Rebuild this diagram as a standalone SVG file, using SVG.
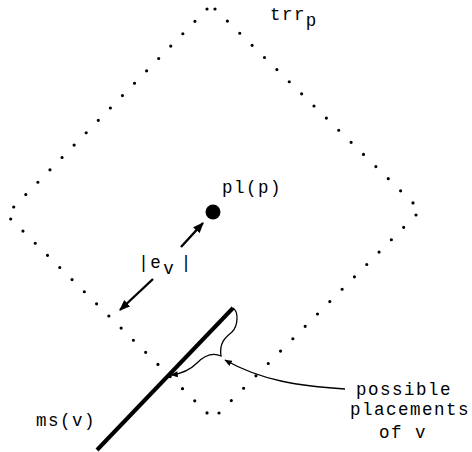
<svg xmlns="http://www.w3.org/2000/svg" width="472" height="452" viewBox="0 0 472 452">
<style>
.t{font-family:"Liberation Mono","Courier New",monospace;font-size:17.5px;letter-spacing:1.5px;fill:#000}
.c{text-anchor:middle;letter-spacing:0}
.dot{fill:none;stroke:#000;stroke-width:3.2;stroke-linecap:round;stroke-dasharray:0 1}
.thin{fill:none;stroke:#000;stroke-width:1.3}
.arr{fill:none;stroke:#000;stroke-width:2.4}
</style>
<defs>
<marker id="ah" viewBox="0 0 10 8" refX="9" refY="4" markerWidth="11" markerHeight="9" markerUnits="userSpaceOnUse" orient="auto"><path d="M0,0 L10,4 L0,8 z" fill="#000"/></marker>
<marker id="as" viewBox="0 0 10 8" refX="9" refY="4" markerWidth="8" markerHeight="6" markerUnits="userSpaceOnUse" orient="auto"><path d="M0,0 L10,4 L0,8 z" fill="#000"/></marker>
</defs>
<g id="trr">
<path class="dot" pathLength="16.3" d="M207,9 L10.1,210.7"/>
<path class="dot" pathLength="16.3" d="M215,9 L416.7,206.6"/>
<path class="dot" pathLength="16.3" d="M10.7,219 L210.7,416.6"/>
<path class="dot" pathLength="16.3" d="M416,215 L215.3,416.7"/>
<text class="t" x="270" y="20" letter-spacing="0">trr</text>
<text class="t c" x="311" y="26">p</text>
</g>
<g id="plp">
<circle cx="213" cy="212" r="7.5" fill="#000"/>
<text class="t" x="222" y="193">pl(p)</text>
</g>
<g id="ms">
<line x1="97" y1="450" x2="233" y2="308" stroke="#000" stroke-width="4"/>
<text class="t" x="36" y="426">ms(v)</text>
</g>
<g id="placements">
<path class="thin" d="M233,308 C239,312 238,326 232,332 C226,337 219,342 221,356 C212,352 204,356 197,363 C190,370 180,374 171,375" marker-end="url(#as)"/>
<text class="t" x="356" y="395">possible</text>
<text class="t" x="350" y="415">placements</text>
<text class="t" x="379" y="438">of v</text>
</g>
<g id="connectors">
<line class="arr" x1="181" y1="247" x2="203" y2="223" marker-end="url(#ah)"/>
<line class="arr" x1="153" y1="279" x2="120" y2="310" marker-end="url(#ah)"/>
<path class="thin" d="M345,389 C300,386 262,381 225,360" marker-end="url(#as)"/>
</g>
<g id="ev">
<text class="t c" x="143.5" y="268">|</text>
<text class="t c" x="155.5" y="268">e</text>
<text class="t c" x="168.5" y="274">v</text>
<text class="t c" x="186" y="268">|</text>
</g>
</svg>
